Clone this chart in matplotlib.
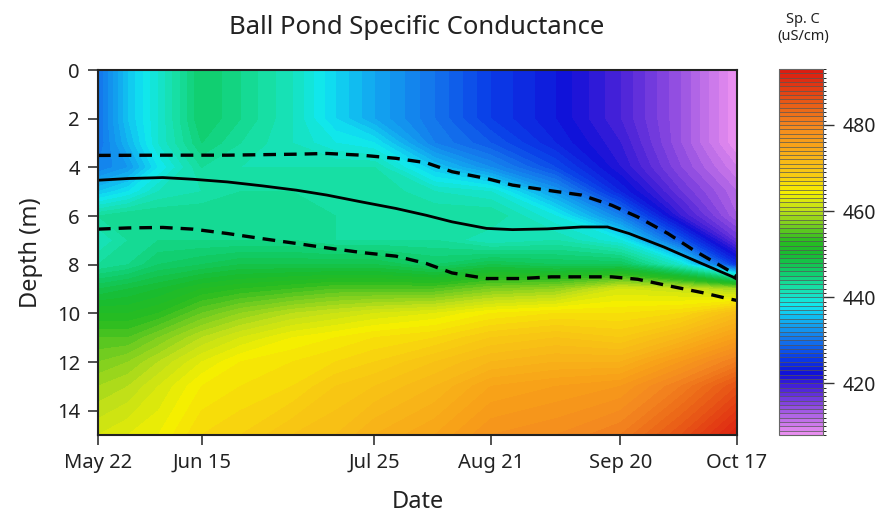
import numpy as np
import matplotlib
matplotlib.use("Agg")
import matplotlib.pyplot as plt
from matplotlib.colors import LinearSegmentedColormap, BoundaryNorm

plt.rcParams['font.family'] = ['Noto Sans', 'DejaVu Sans']

# Profile dates as days since May 22
days = [0, 7, 14, 24, 33, 45, 55, 64, 78, 91, 106, 121, 135, 148]
depths = [0, 2, 3, 4, 5, 6, 7, 8, 9, 10, 11, 12, 13, 15]

# Specific conductance (uS/cm), one profile per date, top to bottom
spc = [
    [430, 430, 430, 431, 436, 443, 441, 443, 448, 452, 455, 457, 459, 462],
    [436, 436, 435, 433, 438, 444, 443, 444, 449, 452, 455, 458, 460, 463],
    [440, 440, 440, 438, 441, 444, 444, 446, 450, 453, 457, 460, 462, 464],
    [446, 446, 445, 443, 442, 444, 444, 447, 452, 456, 460, 463, 465, 467],
    [444, 444, 443, 442, 443, 444, 444, 448, 453, 458, 462, 465, 466, 468],
    [441, 441, 441, 442, 443, 444, 444, 448, 454, 460, 464, 466, 467, 470],
    [437, 437, 439, 442, 443, 443, 443, 448, 455, 461, 465, 467, 469, 471],
    [434, 434, 438, 442, 443, 443, 443, 448, 455, 462, 466, 468, 470, 473],
    [430, 430, 431, 436, 441, 443, 443, 446, 455, 463, 467, 470, 472, 475],
    [426, 426, 428, 432, 440, 443, 441, 448, 457, 465, 469, 472, 475, 478],
    [423, 423, 424, 427, 433, 439, 442, 447, 458, 466, 470, 473, 476, 479],
    [419, 419, 420, 421, 424, 431, 439, 447, 462, 466, 469, 473, 477, 481],
    [414, 414, 414, 415, 417, 420, 428, 440, 461, 467, 472, 477, 481, 486],
    [408, 408, 408, 410, 412, 413, 417, 425, 459, 471, 476, 481, 486, 492],
]

# Thermocline (solid) and metalimnion bounds (dashed)
thermo_days = [0, 7, 15, 22, 30, 38, 46, 53, 61, 69, 76, 82, 90, 96, 104, 112, 118, 123, 131, 139, 147, 148]
thermo_depth = [4.53, 4.46, 4.42, 4.49, 4.6, 4.76, 4.94, 5.14, 5.42, 5.69, 5.97, 6.24, 6.51, 6.56,
                6.53, 6.45, 6.45, 6.72, 7.27, 7.89, 8.5, 8.6]
upper_days = [0, 15, 30, 46, 53, 61, 69, 76, 82, 90, 96, 104, 112, 119, 125, 132, 138, 146, 148]
upper_depth = [3.51, 3.5, 3.5, 3.46, 3.43, 3.5, 3.63, 3.81, 4.18, 4.46, 4.73, 4.94, 5.14, 5.56,
               6.04, 6.72, 7.41, 8.23, 8.5]
lower_days = [0, 7, 15, 22, 30, 38, 46, 53, 61, 69, 76, 82, 90, 98, 105, 112, 119, 125, 133, 140, 146, 148]
lower_depth = [6.54, 6.49, 6.47, 6.54, 6.72, 6.93, 7.13, 7.31, 7.5, 7.65, 7.95, 8.34, 8.57, 8.57,
               8.5, 8.5, 8.5, 8.6, 8.9, 9.15, 9.4, 9.47]

tick_days = [0, 24, 64, 91, 121, 148]
tick_labels = ["May 22", "Jun 15", "Jul 25", "Aug 21", "Sep 20", "Oct 17"]
depth_ticks = [0, 2, 4, 6, 8, 10, 12, 14]
cbar_ticks = [420, 440, 460, 480]

levels = np.arange(408, 494, 1)

anchors = [
    (408, "#e88ef0"), (411, "#c070e8"), (414.5, "#8a48e0"), (418.5, "#4a22d8"),
    (422, "#1010d8"), (426, "#0a40e8"), (430, "#1478ec"), (434, "#12a8f0"),
    (438, "#10e8f0"), (442, "#18e0a8"), (446, "#10cc68"), (450, "#18bc30"),
    (453, "#28bc20"), (456.5, "#70cc20"), (460.5, "#c0e018"), (464.5, "#f5f000"),
    (468, "#f8d010"), (472, "#f8b818"), (476, "#f8a018"), (480, "#f48820"),
    (484, "#ec6818"), (488, "#e44414"), (493, "#dc1c10"),
]
lo, hi = anchors[0][0], anchors[-1][0]
cmap = LinearSegmentedColormap.from_list(
    "spc", [((v - lo) / (hi - lo), c) for v, c in anchors], N=512)
norm = BoundaryNorm(levels, cmap.N)

fig = plt.figure(figsize=(8.87, 5.21), dpi=100)
ax = fig.add_axes([98 / 887, 1 - 435 / 521, 639 / 887, 365 / 521])
cax = fig.add_axes([779 / 887, 1 - 435 / 521, 44 / 887, 366 / 521])

X, Y = np.meshgrid(days, depths)
Z = np.array(spc).T
cf = ax.contourf(X, Y, Z, levels=levels, cmap=cmap, norm=norm, antialiased=False)

ax.plot(thermo_days, thermo_depth, color="black", lw=2.0, solid_capstyle="butt")
ax.plot(upper_days, upper_depth, color="black", lw=2.4, dashes=(3.8, 2.4))
ax.plot(lower_days, lower_depth, color="black", lw=2.4, dashes=(3.8, 2.4))

ax.set_xlim(0, 148)
ax.set_ylim(15, 0)
ax.set_xticks(tick_days)
ax.set_xticklabels(tick_labels)
ax.set_yticks(depth_ticks)
ax.tick_params(axis="both", direction="out", length=7, width=1.2, color="#333333",
               labelsize=14.5, pad=6, labelcolor="#222222")
for s in ax.spines.values():
    s.set_linewidth(1.5)
    s.set_color("#222222")

ax.set_xlabel("Date", fontsize=17, color="#222222", labelpad=12)
ax.set_ylabel("Depth (m)", fontsize=17, color="#222222", labelpad=10)
fig.text(417 / 887, 1 - 28 / 521, "Ball Pond Specific Conductance", ha="center", va="center",
         fontsize=18.5, color="#222222")

cb = fig.colorbar(cf, cax=cax, drawedges=True)
cb.dividers.set_color("#555555")
cb.dividers.set_linewidth(0.5)
cb.outline.set_edgecolor("#666666")
cb.outline.set_linewidth(0.8)
cb.set_ticks(cbar_ticks)
cax.tick_params(axis="y", direction="out", length=8, width=1.0, color="#333333",
                labelsize=14, pad=6, labelcolor="#222222")
fig.text(803 / 887, 1 - 28 / 521, "Sp. C\n(uS/cm)", ha="center", va="center",
         fontsize=10.5, color="#222222", linespacing=1.1)

fig.savefig("out.png", dpi=100)
